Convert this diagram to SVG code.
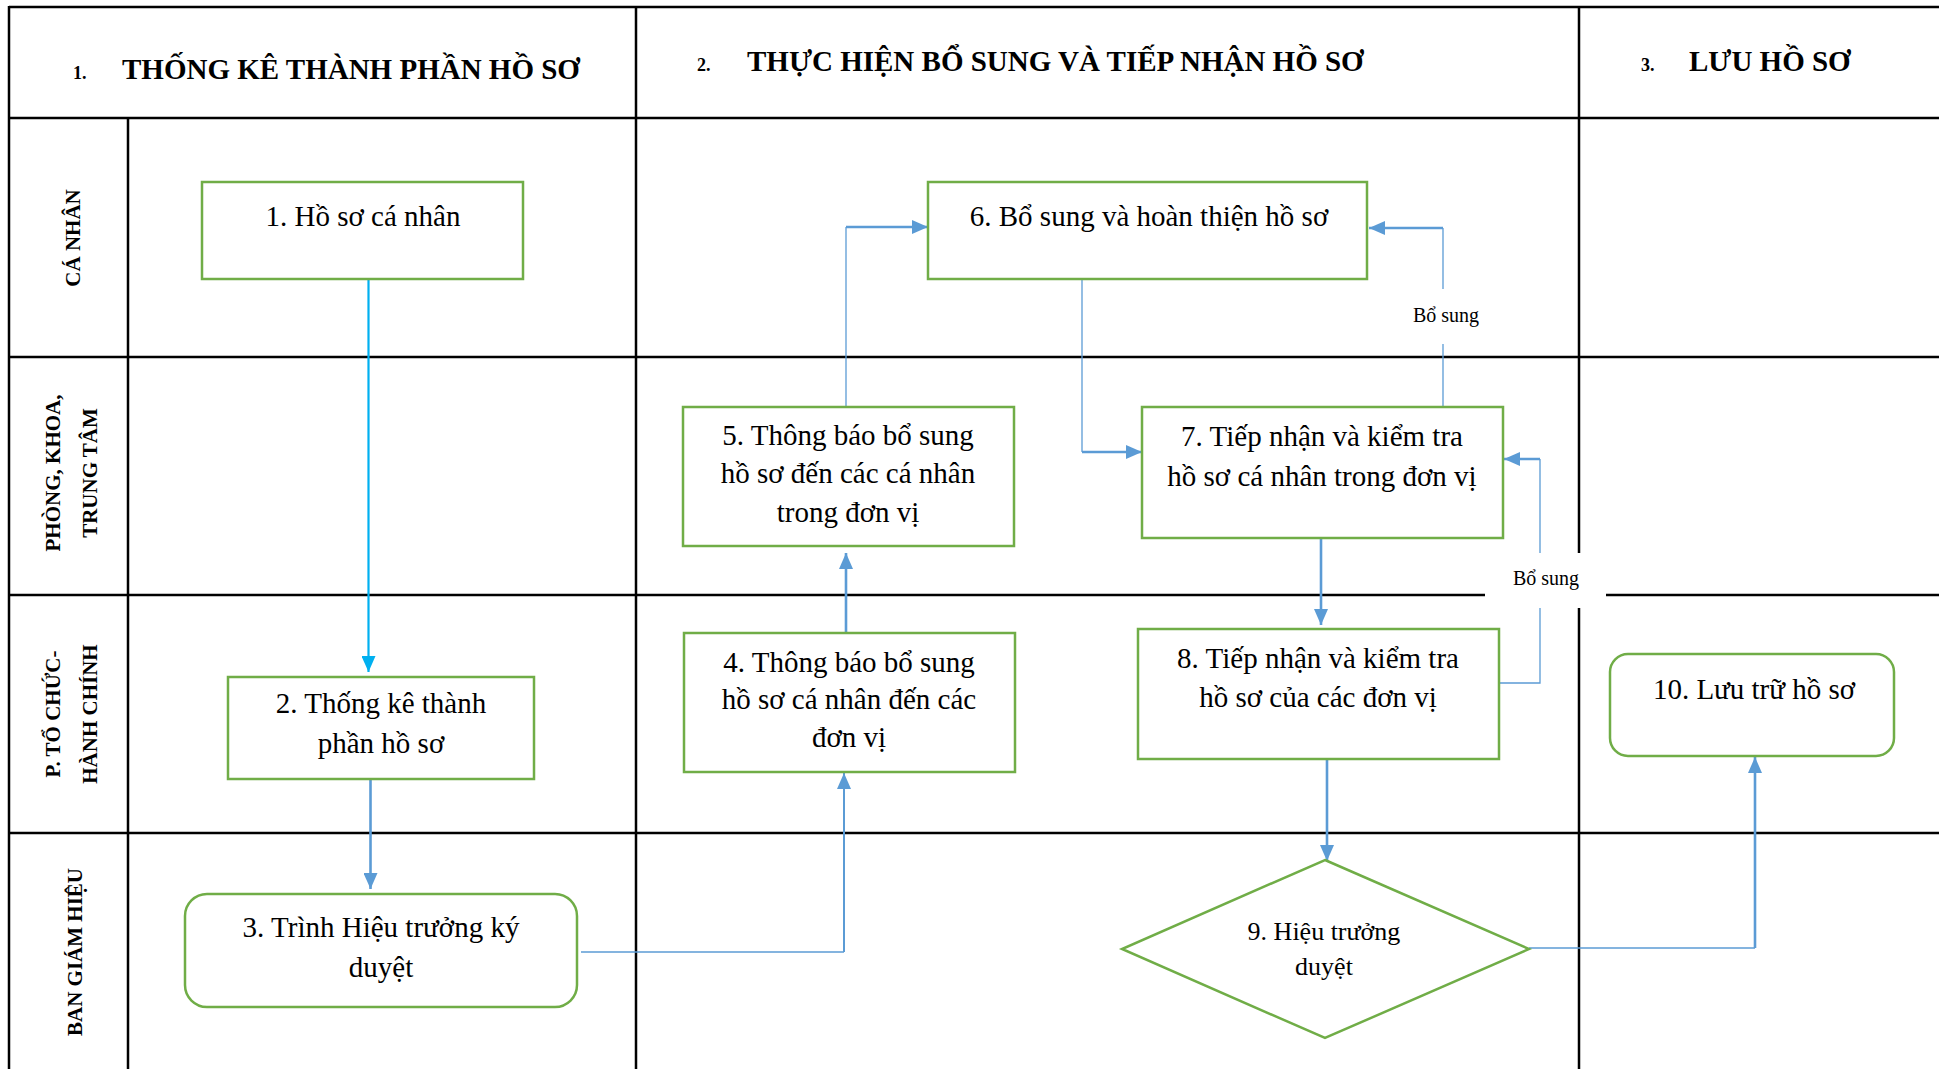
<svg xmlns="http://www.w3.org/2000/svg" width="1939" height="1069" viewBox="0 0 1939 1069">
<defs>
<style>
.grid{stroke:#000;stroke-width:2.5;fill:none}
.box{fill:#fff;stroke:#70AD47;stroke-width:2.5}
.t{font-family:"Liberation Serif","Times New Roman",serif;font-size:29px;fill:#000;text-anchor:middle}
.d{font-size:26px}
.h{font-family:"Liberation Serif","Times New Roman",serif;font-weight:bold;fill:#000}
.hn{font-size:18px}
.ht{font-size:29px}
.lane{font-family:"Liberation Serif","Times New Roman",serif;font-weight:bold;font-size:21px;fill:#000;text-anchor:middle}
.thin{stroke:#5B9BD5;stroke-width:1.3;fill:none}
.thick{stroke:#5B9BD5;stroke-width:2.6;fill:none}
.cyan{stroke:#00B0F0;stroke-width:2.2;fill:none}
.lbl{font-family:"Liberation Serif","Times New Roman",serif;font-size:20px;fill:#000;text-anchor:middle}
</style>
<marker id="ah" markerUnits="userSpaceOnUse" markerWidth="16" markerHeight="14" refX="16" refY="7" orient="auto">
<path d="M0,0 L16,7 L0,14 z" fill="#5B9BD5"/>
</marker>
<marker id="ahc" markerUnits="userSpaceOnUse" markerWidth="16" markerHeight="14" refX="16" refY="7" orient="auto">
<path d="M0,0 L16,7 L0,14 z" fill="#00B0F0"/>
</marker>
</defs>
<rect width="1939" height="1069" fill="#fff"/>
<g id="grid">
<line class="grid" x1="9" y1="7" x2="1939" y2="7"/>
<line class="grid" x1="9" y1="118" x2="1939" y2="118"/>
<line class="grid" x1="9" y1="357" x2="1939" y2="357"/>
<line class="grid" x1="9" y1="595" x2="1939" y2="595"/>
<line class="grid" x1="9" y1="833" x2="1939" y2="833"/>
<line class="grid" x1="9" y1="6" x2="9" y2="1069"/>
<line class="grid" x1="128" y1="118" x2="128" y2="1069"/>
<line class="grid" x1="636" y1="6" x2="636" y2="1069"/>
<line class="grid" x1="1579" y1="6" x2="1579" y2="1069"/>
</g>
<g id="headers">
<text class="h hn" x="73" y="79">1.</text>
<text class="h ht" x="122" y="79">THỐNG KÊ THÀNH PHẦN HỒ SƠ</text>
<text class="h hn" x="697" y="71">2.</text>
<text class="h ht" x="747" y="71">THỰC HIỆN BỔ SUNG VÀ TIẾP NHẬN HỒ SƠ</text>
<text class="h hn" x="1641" y="71">3.</text>
<text class="h ht" x="1689" y="71">LƯU HỒ SƠ</text>
</g>
<g id="lanes">
<text class="lane" transform="translate(80,238) rotate(-90)">CÁ NHÂN</text>
<text class="lane" transform="translate(60,473) rotate(-90)">PHÒNG, KHOA,</text>
<text class="lane" transform="translate(97,473) rotate(-90)">TRUNG TÂM</text>
<text class="lane" transform="translate(60,714) rotate(-90)">P. TỔ CHỨC-</text>
<text class="lane" transform="translate(97,714) rotate(-90)">HÀNH CHÍNH</text>
<text class="lane" transform="translate(82,952) rotate(-90)">BAN GIÁM HIỆU</text>
</g>
<g id="connectors">
<line class="cyan" x1="368.5" y1="279" x2="368.5" y2="672" marker-end="url(#ahc)"/>
<line class="thick" x1="370.5" y1="779" x2="370.5" y2="889" marker-end="url(#ah)"/>
<polyline class="thin" points="581,952 844,952"/>
<line class="thick" x1="844" y1="952" x2="844" y2="773" marker-end="url(#ah)" style="stroke-width:2"/>
<line class="thick" x1="846" y1="633" x2="846" y2="553" marker-end="url(#ah)"/>
<polyline class="thin" points="846,407 846,227"/>
<line class="thick" x1="846" y1="227" x2="928" y2="227" marker-end="url(#ah)"/>
<polyline class="thin" points="1082,279 1082,452"/>
<line class="thick" x1="1082" y1="452" x2="1142" y2="452" marker-end="url(#ah)"/>
<polyline class="thin" points="1443,407 1443,228"/>
<line class="thick" x1="1443" y1="228" x2="1369" y2="228" marker-end="url(#ah)"/>
<line class="thick" x1="1321" y1="538" x2="1321" y2="625" marker-end="url(#ah)"/>
<polyline class="thin" points="1500,683 1540,683 1540,459"/>
<line class="thick" x1="1540" y1="459" x2="1504" y2="459" marker-end="url(#ah)"/>
<line class="thick" x1="1327" y1="759" x2="1327" y2="861" marker-end="url(#ah)"/>
<polyline class="thin" points="1529,948 1755,948"/>
<line class="thick" x1="1755" y1="948" x2="1755" y2="757" marker-end="url(#ah)"/>
<rect x="1405" y="289" width="80" height="55" fill="#fff"/>
<text class="lbl" x="1446" y="322">Bổ sung</text>
<rect x="1485" y="553" width="121" height="55" fill="#fff"/>
<text class="lbl" x="1546" y="585">Bổ sung</text>
</g>
<g id="node1">
<rect class="box" x="202" y="182" width="321" height="97"/>
<text class="t" x="363" y="226">1. Hồ sơ cá nhân</text>
</g>
<g id="node2">
<rect class="box" x="228" y="677" width="306" height="102"/>
<text class="t" x="381" y="713">2. Thống kê thành</text>
<text class="t" x="381" y="753">phần hồ sơ</text>
</g>
<g id="node3">
<rect class="box" x="185" y="894" width="392" height="113" rx="22"/>
<text class="t" x="381" y="937">3. Trình Hiệu trưởng ký</text>
<text class="t" x="381" y="977">duyệt</text>
</g>
<g id="node4">
<rect class="box" x="684" y="633" width="331" height="139"/>
<text class="t" x="849" y="672">4. Thông báo bổ sung</text>
<text class="t" x="849" y="709">hồ sơ cá nhân đến các</text>
<text class="t" x="849" y="747">đơn vị</text>
</g>
<g id="node5">
<rect class="box" x="683" y="407" width="331" height="139"/>
<text class="t" x="848" y="445">5. Thông báo bổ sung</text>
<text class="t" x="848" y="483">hồ sơ đến các cá nhân</text>
<text class="t" x="848" y="522">trong đơn vị</text>
</g>
<g id="node6">
<rect class="box" x="928" y="182" width="439" height="97"/>
<text class="t" x="1149" y="226">6. Bổ sung và hoàn thiện hồ sơ</text>
</g>
<g id="node7">
<rect class="box" x="1142" y="407" width="361" height="131"/>
<text class="t" x="1322" y="446">7. Tiếp nhận và kiểm tra</text>
<text class="t" x="1322" y="486">hồ sơ cá nhân trong đơn vị</text>
</g>
<g id="node8">
<rect class="box" x="1138" y="629" width="361" height="130"/>
<text class="t" x="1318" y="668">8. Tiếp nhận và kiểm tra</text>
<text class="t" x="1318" y="707">hồ sơ của các đơn vị</text>
</g>
<g id="node9">
<polygon class="box" points="1325,860 1529,949 1325,1038 1122,949"/>
<text class="t d" x="1324" y="940">9. Hiệu trưởng</text>
<text class="t d" x="1324" y="975">duyệt</text>
</g>
<g id="node10">
<rect class="box" x="1610" y="654" width="284" height="102" rx="18"/>
<text class="t" x="1754" y="699">10. Lưu trữ hồ sơ</text>
</g>
</svg>
